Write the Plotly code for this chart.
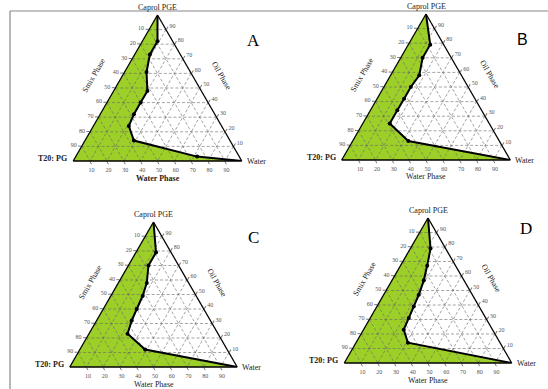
import math
import plotly.graph_objects as go

# ---------------- data (percent compositions) ----------------
PANELS = ["A", "B", "C", "D"]

# Panel A
A_oil = [82, 73, 61, 48, 40, 32, 24, 14, 3]
A_smix = [9, 18, 26, 32, 40, 48, 55, 57, 25]
A_water = [9, 9, 13, 20, 20, 20, 21, 29, 72]

# Panel B
B_oil = [79, 70, 58, 50, 42, 34, 25, 13]
B_smix = [8, 17, 25, 34, 42, 50, 59, 54]
B_water = [13, 13, 17, 16, 16, 16, 16, 33]

# Panel C
C_oil = [79, 70, 58, 49, 40, 32, 23, 12]
C_smix = [9, 18, 25, 32, 40, 47, 54, 49]
C_water = [12, 12, 17, 19, 20, 21, 23, 39]

# Panel D
D_oil = [79, 67, 57, 47, 39, 31, 23, 14]
D_smix = [9, 17, 24, 32, 39, 46, 53, 55]
D_water = [12, 16, 19, 21, 22, 23, 24, 31]

GRID_TICKS = [10, 20, 30, 40, 50, 60, 70, 80, 90]
TICK_LABELS = ["90", "80", "70", "60", "50", "40", "30", "20", "10"]  # label shown at each tick position

TOP_LABEL = "Caprol PGE"
LEFT_LABEL = "T20: PG"
RIGHT_LABEL = "Water"
LEFT_SIDE = "Smix Phase"
RIGHT_SIDE = "Oil Phase"
BOTTOM_SIDE = "Water Phase"

DATA = {
    "A": (A_oil, A_smix, A_water),
    "B": (B_oil, B_smix, B_water),
    "C": (C_oil, C_smix, C_water),
    "D": (D_oil, D_smix, D_water),
}

# ---------------- layout / style ----------------
W, H = 548, 389
GREEN = "#9DCF29"
SERIF = "Liberation Serif, Times New Roman, serif"
SQ3 = math.sqrt(3)

# triangle placement in pixels: centre x, apex y, base y
GEOM = {
    "A": (157.5, 15, 161),
    "B": (426.0, 14, 160),
    "C": (153.5, 222, 367),
    "D": (428.0, 218, 363),
}
LETTER_POS = {"A": (253, 40), "B": (522, 39), "C": (253, 237), "D": (526, 228)}


def px(x):
    return x / W


def py(y):
    return 1 - y / H


fig = go.Figure()
layout_extra = {}
annotations = []

for i, name in enumerate(PANELS):
    tid = "ternary" if i == 0 else f"ternary{i + 1}"
    oil, smix, water = DATA[name]
    cx, ay, by = GEOM[name]
    h = by - ay
    w = h * 2 / SQ3

    axis_common = dict(
        min=0,
        linecolor="black",
        linewidth=1.3,
        showgrid=False,
        ticks="outside",
        ticklen=3,
        tickcolor="#777",
        tickwidth=0.8,
        tickvals=GRID_TICKS,
        ticktext=TICK_LABELS,
        tickfont=dict(family=SERIF, size=6, color="#555"),
        title=dict(text=""),
    )
    layout_extra[tid] = dict(
        domain=dict(x=[px(cx - w / 2), px(cx + w / 2)], y=[py(by), py(ay)]),
        sum=100,
        bgcolor="white",
        aaxis=axis_common,
        baxis=axis_common,
        caxis=axis_common,
    )

    # green (one-phase) region: apex -> boundary -> water vertex -> smix vertex
    fig.add_trace(go.Scatterternary(
        a=[100] + oil + [0, 0], b=[0] + smix + [0, 100], c=[0] + water + [100, 0],
        mode="lines", fill="toself", fillcolor=GREEN,
        line=dict(color=GREEN, width=0), subplot=tid, hoverinfo="skip",
    ))

    # dashed grid drawn over the fill
    ga, gb, gc = [], [], []
    for v in GRID_TICKS:
        ga += [v, v, None]; gb += [100 - v, 0, None]; gc += [0, 100 - v, None]
        ga += [100 - v, 0, None]; gb += [v, v, None]; gc += [0, 100 - v, None]
        ga += [100 - v, 0, None]; gb += [0, 100 - v, None]; gc += [v, v, None]
    fig.add_trace(go.Scatterternary(
        a=ga, b=gb, c=gc, mode="lines",
        line=dict(color="#666", width=0.6, dash="3px,2px"),
        subplot=tid, hoverinfo="skip",
    ))

    # boundary line
    fig.add_trace(go.Scatterternary(
        a=[100] + oil + [0], b=[0] + smix + [0], c=[0] + water + [100],
        mode="lines", line=dict(color="black", width=2),
        subplot=tid, hoverinfo="skip",
    ))
    fig.add_trace(go.Scatterternary(
        a=oil, b=smix, c=water, mode="markers",
        marker=dict(color="black", size=4), subplot=tid,
    ))

    # labels
    blx, brx = cx - w / 2, cx + w / 2
    f8 = dict(family=SERIF, size=8, color="#222")
    annotations.append(dict(x=px(cx), y=py(ay - 1), text=TOP_LABEL, showarrow=False,
                            xanchor="center", yanchor="bottom", font=f8))
    annotations.append(dict(x=px(blx - 4), y=py(by - 3), text=f"<b>{LEFT_LABEL}</b>", showarrow=False,
                            xanchor="right", yanchor="middle", font=f8))
    annotations.append(dict(x=px(brx + 3), y=py(by), text=RIGHT_LABEL, showarrow=False,
                            xanchor="left", yanchor="middle", font=f8))
    wp = f"<b>{BOTTOM_SIDE}</b>" if name == "A" else BOTTOM_SIDE
    annotations.append(dict(x=px(cx), y=py(by + 17), text=wp, showarrow=False,
                            xanchor="center", yanchor="middle", font=f8))
    mx, my = cx - w / 4, (ay + by) / 2
    annotations.append(dict(x=px(mx - 0.866 * 25), y=py(my - 0.5 * 25), text=LEFT_SIDE, showarrow=False,
                            textangle=-60, xanchor="center", yanchor="middle", font=f8))
    mx2 = cx + w / 4
    annotations.append(dict(x=px(mx2 + 0.866 * 25), y=py(my - 0.5 * 25), text=RIGHT_SIDE, showarrow=False,
                            textangle=60, xanchor="center", yanchor="middle", font=f8))
    lx, ly = LETTER_POS[name]
    lfont = dict(family="Liberation Sans, Arial, sans-serif", size=16, color="black") if name == "B" \
        else dict(family=SERIF, size=17, color="black")
    annotations.append(dict(x=px(lx), y=py(ly), text=name, showarrow=False,
                            xanchor="center", yanchor="middle", font=lfont))

fig.update_layout(
    width=W, height=H,
    margin=dict(l=0, r=0, t=0, b=0),
    paper_bgcolor="white",
    showlegend=False,
    annotations=annotations,
    shapes=[
        dict(type="line", xref="paper", yref="paper", x0=px(10), x1=px(10), y0=0, y1=py(11),
             line=dict(color="#888", width=1.2), layer="above"),
        dict(type="line", xref="paper", yref="paper", x0=px(10), x1=1, y0=py(11), y1=py(11),
             line=dict(color="#888", width=1.2), layer="above"),
    ],
    **layout_extra,
)

fig.write_html("out.html", config={"displayModeBar": False},
               post_script="document.body.style.margin='0';")
